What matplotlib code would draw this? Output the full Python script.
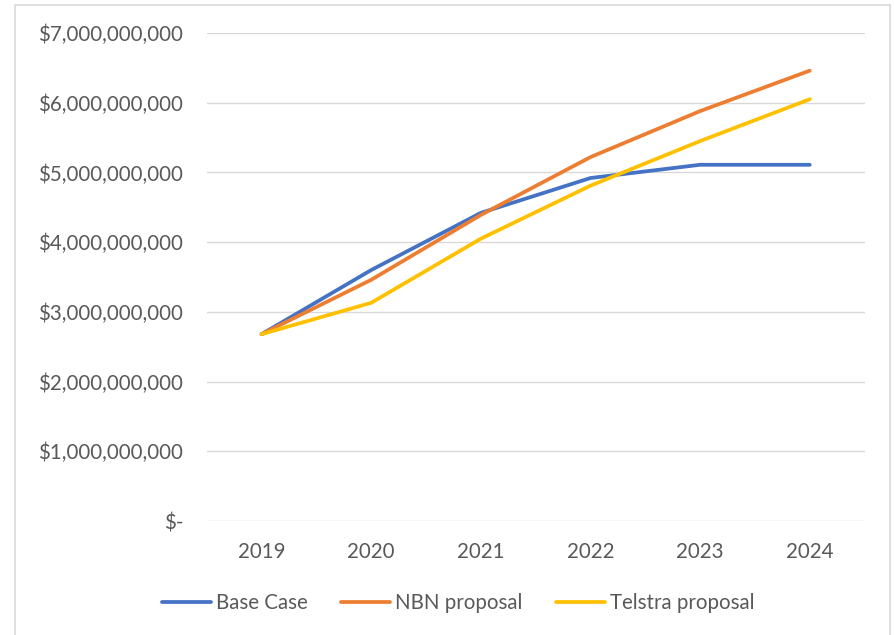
import matplotlib
matplotlib.use("Agg")
import matplotlib.pyplot as plt
from matplotlib.patches import Rectangle
from matplotlib.ticker import FuncFormatter

years = ["2019", "2020", "2021", "2022", "2023", "2024"]
base_case = [2.68e9, 3.60e9, 4.42e9, 4.92e9, 5.11e9, 5.11e9]
nbn_proposal = [2.68e9, 3.46e9, 4.39e9, 5.22e9, 5.88e9, 6.46e9]
telstra_proposal = [2.68e9, 3.13e9, 4.05e9, 4.81e9, 5.45e9, 6.05e9]

plt.rcParams['font.family'] = ['Lato', 'DejaVu Sans']
txt = '#595959'
fs = 14.8

fig = plt.figure(figsize=(8.95, 6.35), dpi=100)
ax = fig.add_axes([0.231, 0.1795, 0.735, 0.7685])

# chart frame (cropped at the bottom)
fig.patches.append(Rectangle((15 / 895, -0.02), 875 / 895, 1.0 - 5 / 635 + 0.02,
                             transform=fig.transFigure, fill=False,
                             edgecolor='#d9d9d9', linewidth=1.2))

x = range(len(years))
ax.plot(x, base_case, color='#4472C4', lw=2.7, solid_capstyle='round', label='Base Case')
ax.plot(x, nbn_proposal, color='#ED7D31', lw=2.7, solid_capstyle='round', label='NBN proposal')
ax.plot(x, telstra_proposal, color='#FFC000', lw=2.7, solid_capstyle='round', label='Telstra proposal')

ax.set_xlim(-0.5, len(years) - 0.5)
ax.set_ylim(0, 7e9)
ax.set_yticks([i * 1e9 for i in range(8)])


def fmt(v, pos):
    if v == 0:
        return '$-'
    return '${:,.0f}'.format(v)


ax.yaxis.set_major_formatter(FuncFormatter(fmt))
ax.set_xticks(list(x))
ax.set_xticklabels(years)
ax.grid(axis='y', color='#d9d9d9', lw=1)
ax.set_axisbelow(True)
for s in ax.spines.values():
    s.set_visible(False)
ax.tick_params(length=0, labelsize=fs, colors=txt)
ax.tick_params(axis='x', pad=15)
ax.tick_params(axis='y', pad=17)

leg = fig.legend(loc='center', bbox_to_anchor=(0.512, 0.05), ncol=3, frameon=False,
                 fontsize=fs, handlelength=2.4, handletextpad=0.25, columnspacing=1.6)
for t in leg.get_texts():
    t.set_color(txt)

fig.savefig('out.png', dpi=100)
